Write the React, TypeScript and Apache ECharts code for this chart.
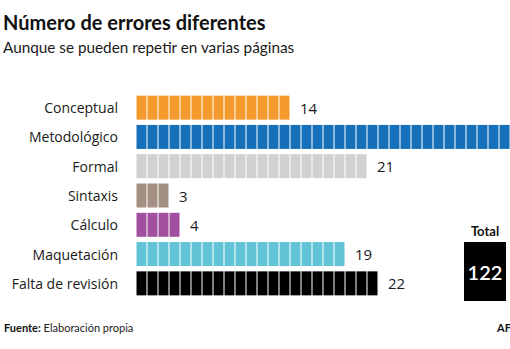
import React, { useEffect, useRef } from "react";
import * as echarts from "echarts";

const categories = ["Conceptual", "Metodológico", "Formal", "Sintaxis", "Cálculo", "Maquetación", "Falta de revisión"];
const values = [14, 39, 21, 3, 4, 19, 22];
const colors = ["#F49A2C", "#166FB9", "#D1D1D1", "#A39083", "#A34F9F", "#62C3D7", "#000000"];
const totalLabel = "Total";
const totalValue = 122;
const titleText = "Número de errores diferentes";
const subtitleText = "Aunque se pueden repetir en varias páginas";
const sourceLabel = "Fuente:";
const sourceText = " Elaboración propia";

const FONT = "Lato, 'Open Sans', sans-serif";
const AXIS_MAX = 34;

export default function App() {
  const ref = useRef<HTMLDivElement>(null);
  useEffect(() => {
    if (!ref.current) return;
    const chart = echarts.init(ref.current, null, { renderer: "svg" });
    chart.setOption({
      animation: false,
      backgroundColor: "#ffffff",
      grid: { left: 136, right: 0, top: 93, height: 205, containLabel: false },
      xAxis: { type: "value", min: 0, max: AXIS_MAX, show: false },
      yAxis: {
        type: "category",
        data: categories,
        inverse: true,
        axisLine: { show: false },
        axisTick: { show: false },
        splitLine: { show: false },
        axisLabel: { margin: 18, color: "#1a1a1a", fontSize: 14, fontFamily: "'Open Sans', sans-serif" },
      },
      series: [
        {
          type: "pictorialBar",
          symbol: "rect",
          symbolRepeat: true,
          symbolSize: [10, 24],
          symbolMargin: "5%!",
          symbolPosition: "start",
          data: values.map((v, i) => ({ value: v, itemStyle: { color: colors[i] } })),
          z: 3,
        },
        {
          type: "bar",
          barWidth: 24,
          barGap: "-100%",
          itemStyle: { color: "rgba(0,0,0,0)" },
          label: {
            show: true,
            position: "right",
            distance: 10,
            color: "#1a1a1a",
            fontSize: 15,
            fontFamily: "'Open Sans', sans-serif",
          },
          data: values.map((v) => (v > AXIS_MAX ? { value: v, label: { show: false } } : v)),
          z: 2,
        },
      ],
      graphic: [
        {
          type: "text",
          left: 3,
          top: 12,
          style: { text: titleText, font: `bold 20px ${FONT}`, fill: "#111" },
        },
        {
          type: "text",
          left: 3,
          top: 39,
          style: { text: subtitleText, font: `15.3px ${FONT}`, fill: "#1a1a1a" },
        },
        {
          type: "text",
          left: 4,
          top: 322,
          style: {
            text: `{b|${sourceLabel}}{n|${sourceText}}`,
            rich: {
              b: { font: `bold 11px ${FONT}`, fill: "#111" },
              n: { font: `11px ${FONT}`, fill: "#1a1a1a" },
            },
          },
        },
        {
          type: "text",
          x: 497,
          y: 322,
          style: { text: "AF", font: `bold 11px ${FONT}`, fill: "#111" },
        },
        {
          type: "text",
          x: 485,
          y: 231,
          style: { text: totalLabel, font: `bold 13px ${FONT}`, fill: "#111", align: "center", verticalAlign: "middle" },
        },
        {
          type: "rect",
          shape: { x: 464, y: 242, width: 42, height: 59 },
          style: { fill: "#000" },
        },
        {
          type: "text",
          x: 485,
          y: 272,
          style: { text: String(totalValue), font: `600 20px ${FONT}`, fill: "#fff", align: "center", verticalAlign: "middle" },
        },
      ],
    });
    return () => chart.dispose();
  }, []);
  return <div ref={ref} style={{ width: 510, height: 349, position: "absolute", left: 0, top: 0 }} />;
}
